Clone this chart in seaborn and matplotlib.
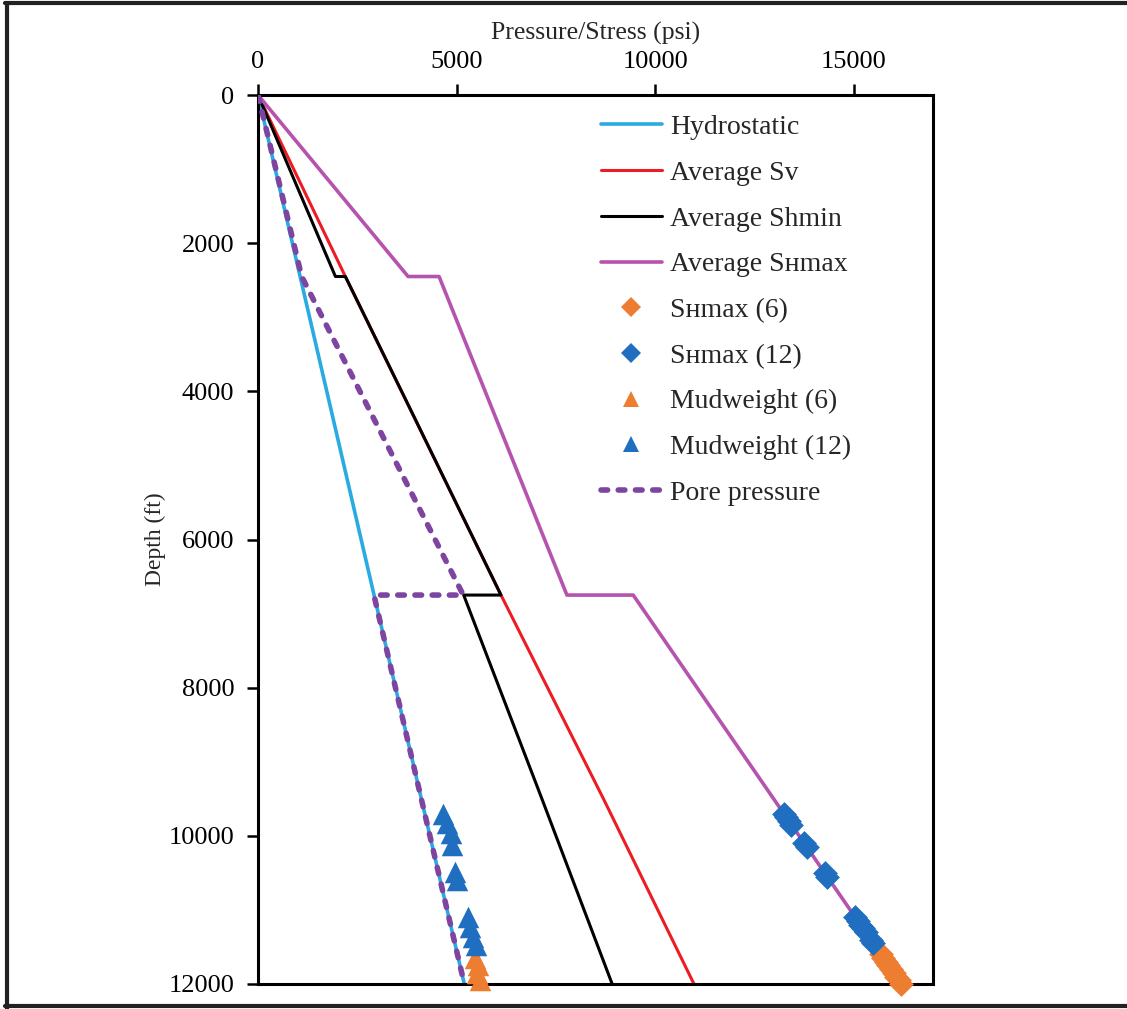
import numpy as np
import pandas as pd
import matplotlib
matplotlib.use("Agg")
import matplotlib.pyplot as plt
from matplotlib.lines import Line2D
import seaborn as sns

# ---------------- data ----------------
hydro_depth = [0, 12000]
hydro_psi = [0, 5196]

sv_depth = [0, 2450, 6750, 9500, 12000]
sv_psi = [0, 2200, 6120, 8700, 10980]

shmin_depth = [0, 2450, 2450, 4200, 6750, 6750, 9500, 12000]
shmin_psi = [0, 1950, 2200, 3800, 6120, 5180, 7150, 8920]

shmax_depth = [0, 2450, 2450, 6750, 6750, 12000]
shmax_psi = [0, 3780, 4560, 7780, 9450, 16200]

pore_depth = [0, 2450, 6750, 6750, 12000]
pore_psi = [0, 1100, 5170, 2920, 5196]

shmax12_depth = [9700, 9750, 9800, 9850, 10100, 10150, 10500, 10550,
                 11100, 11150, 11200, 11250, 11300, 11400, 11450]
shmax12_psi = [13243, 13307, 13371, 13436, 13757, 13821, 14271, 14336,
               15043, 15107, 15171, 15236, 15300, 15429, 15493]

shmax6_depth = [11600, 11650, 11700, 11750, 11800, 11850, 11900, 11950, 12000]
shmax6_psi = [15686, 15750, 15814, 15879, 15943, 16007, 16071, 16136, 16200]

mud12_depth = [9700, 9830, 9960, 10120, 10490, 10600, 11100, 11230, 11370, 11480]
mud12_psi = [4660, 4760, 4860, 4890, 4960, 5010, 5290, 5340, 5415, 5490]

mud6_depth = [11650, 11750, 11850, 11950]
mud6_psi = [5470, 5540, 5520, 5590]

xticks = [0, 5000, 10000, 15000]
yticks = [0, 2000, 4000, 6000, 8000, 10000, 12000]

# ---------------- style ----------------
sns.set_theme(style="white")
plt.rcParams['font.family'] = ['Liberation Serif', 'DejaVu Serif']

c_hydro = "#29ABE2"
c_sv = "#ED1C24"
c_shmin = "#000000"
c_shmax = "#B553AE"
c_pore = "#7D44A0"
c_orange = "#ED7D31"
c_blue = "#1F6EC0"

fig = plt.figure(figsize=(11.27, 10.09), dpi=100)
ax = fig.add_axes([258 / 1127, 1 - 984 / 1009, (933 - 258) / 1127, (984 - 95) / 1009])

def line(xv, yv, label, color, lw=2.2, **kw):
    df = pd.DataFrame({"psi": xv, "depth": yv})
    sns.lineplot(data=df, x="psi", y="depth", sort=False, estimator=None,
                 color=color, lw=lw, label=label, ax=ax, **kw)

SH = "S\u029cmax"

line(hydro_psi, hydro_depth, "Hydrostatic", c_hydro, lw=2.6)
line(sv_psi, sv_depth, "Average Sv", c_sv)
line(shmin_psi, shmin_depth, "Average Shmin", c_shmin)
line(shmax_psi, shmax_depth, "Average " + SH, c_shmax, lw=2.6)

def pts(xv, yv, label, color, marker, size):
    df = pd.DataFrame({"psi": xv, "depth": yv})
    sns.scatterplot(data=df, x="psi", y="depth", color=color, marker=marker,
                    s=size, edgecolor=color, linewidth=0, label=label, ax=ax,
                    clip_on=False, zorder=5)

pts(shmax6_psi, shmax6_depth, SH + " (6)", c_orange, "D", 160)
pts(shmax12_psi, shmax12_depth, SH + " (12)", c_blue, "D", 160)
pts(mud6_psi, mud6_depth, "Mudweight (6)", c_orange, "^", 240)
pts(mud12_psi, mud12_depth, "Mudweight (12)", c_blue, "^", 240)

df_p = pd.DataFrame({"psi": pore_psi, "depth": pore_depth})
sns.lineplot(data=df_p, x="psi", y="depth", sort=False, estimator=None,
             color=c_pore, lw=4.0, label="Pore pressure", ax=ax,
             dashes=False, zorder=4)
pl = ax.get_lines()[-1]
pl.set_linestyle((0, (1.2, 1.9)))
pl.set_dash_capstyle('round')

ax.set_xlim(0, 17000)
ax.set_ylim(12000, 0)
ax.set_xticks(xticks)
ax.set_yticks(yticks)
ax.xaxis.tick_top()
ax.xaxis.set_label_position('top')
ax.tick_params(axis='both', direction='out', length=8, width=1.8,
               labelsize=19, colors='black')
ax.tick_params(axis='x', top=True, bottom=False, pad=8)
ax.tick_params(axis='y', left=True, pad=9)
for sp in ax.spines.values():
    sp.set_visible(True)
    sp.set_color('black')
    sp.set_linewidth(2.2)

ax.set_xlabel("Pressure/Stress (psi)", fontsize=18.5, labelpad=8)
ax.set_ylabel("Depth (ft)", fontsize=17, labelpad=2)

leg_h = [
    Line2D([], [], color=c_hydro, lw=2.6),
    Line2D([], [], color=c_sv, lw=2.2),
    Line2D([], [], color=c_shmin, lw=2.2),
    Line2D([], [], color=c_shmax, lw=2.6),
    Line2D([], [], color=c_orange, marker="D", ls="none", ms=10, mew=0),
    Line2D([], [], color=c_blue, marker="D", ls="none", ms=10, mew=0),
    Line2D([], [], color=c_orange, marker="^", ls="none", ms=12, mew=0),
    Line2D([], [], color=c_blue, marker="^", ls="none", ms=12, mew=0),
    Line2D([], [], color=c_pore, lw=4.0, ls=(0, (1.2, 1.9)), dash_capstyle='round'),
]
leg_l = ["Hydrostatic", "Average Sv", "Average Shmin", "Average " + SH,
         SH + " (6)", SH + " (12)", "Mudweight (6)", "Mudweight (12)",
         "Pore pressure"]
leg = ax.legend(leg_h, leg_l, loc='upper left', bbox_to_anchor=(0.471, 1.006),
                frameon=False, fontsize=20, handlelength=2.2, handletextpad=0.3,
                labelspacing=0.73, numpoints=1)

# figure border (top, left, bottom)
fig.add_artist(Line2D([0.004, 1.0], [0.997, 0.997], transform=fig.transFigure,
                      color='#222222', lw=3))
fig.add_artist(Line2D([0.006, 0.006], [0.0, 0.997], transform=fig.transFigure,
                      color='#222222', lw=3))
fig.add_artist(Line2D([0.004, 1.0], [0.003, 0.003], transform=fig.transFigure,
                      color='#222222', lw=3))

fig.savefig("out.png", dpi=100, facecolor='white')
